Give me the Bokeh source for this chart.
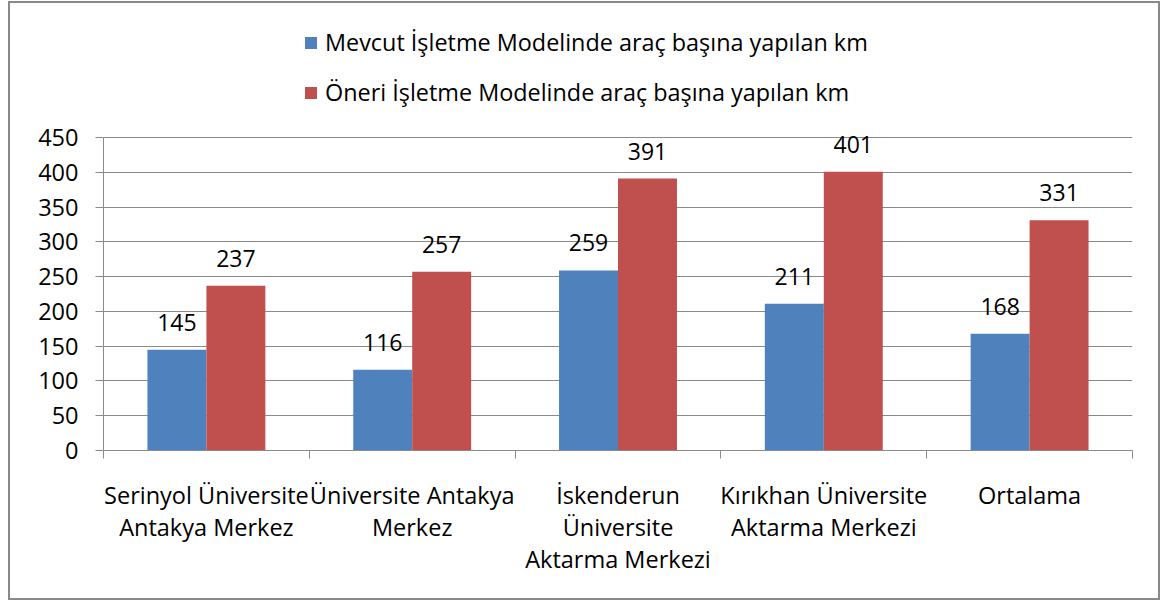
from bokeh.plotting import figure
from bokeh.models import (ColumnDataSource, FixedTicker, LinearAxis, Legend, LegendItem,
                          LabelSet, Range1d)
from bokeh.transform import dodge
from bokeh.embed import file_html
from bokeh.resources import INLINE
from bokeh.core.properties import value

categories = [
    "Serinyol Üniversite\nAntakya Merkez",
    "Üniversite Antakya\nMerkez",
    "İskenderun\nÜniversite\nAktarma Merkezi",
    "Kırıkhan Üniversite\nAktarma Merkezi",
    "Ortalama",
]
mevcut = [145, 116, 259, 211, 168]
oneri = [237, 257, 391, 401, 331]
series_names = [
    "Mevcut İşletme Modelinde araç başına yapılan km",
    "Öneri İşletme Modelinde araç başına yapılan km",
]
y_ticks = [0, 50, 100, 150, 200, 250, 300, 350, 400, 450]

FONT = "Open Sans"
BLUE = "#4F81BD"
RED = "#C0504D"
GRID = "#8A8A8A"

n = len(categories)
xs = [i + 0.5 for i in range(n)]
source = ColumnDataSource(dict(x=xs, mevcut=mevcut, oneri=oneri,
                               ml=[str(v) for v in mevcut], ol=[str(v) for v in oneri]))

# frame extends above the 450 line to hold the legend; axis is bounded to 0..450
frame_h = 423
axis_px = 310
y_top = y_ticks[-1] * frame_h / axis_px

p = figure(width=1152, height=599, output_backend="svg", toolbar_location=None,
           x_range=Range1d(0, n), y_range=Range1d(0, y_top),
           x_axis_location=None, y_axis_location=None)
p.margin = (1, 0, 0, 8)
p.min_border_left = 93
p.min_border_right = 30
p.min_border_top = 20
p.min_border_bottom = 152
p.outline_line_color = None
p.styles = {"border": "2px solid #898989"}
p.background_fill_color = "white"
p.border_fill_color = "white"

bw = 0.2865
r1 = p.vbar(x=dodge("x", -bw / 2, range=p.x_range), top="mevcut", width=bw, source=source,
            fill_color=BLUE, line_color=None)
r2 = p.vbar(x=dodge("x", bw / 2, range=p.x_range), top="oneri", width=bw, source=source,
            fill_color=RED, line_color=None)

for col, lab, off in (("mevcut", "ml", -bw / 2), ("oneri", "ol", bw / 2)):
    ls = LabelSet(x=dodge("x", off, range=p.x_range), y=col, text=lab, source=source,
                  text_align="center", text_baseline="alphabetic", y_offset=19,
                  text_font=value(FONT), text_font_size="23px", text_color="black")
    p.add_layout(ls)

# y axis
yax = LinearAxis(ticker=FixedTicker(ticks=y_ticks), bounds=(y_ticks[0], y_ticks[-1]))
yax.axis_line_color = GRID
yax.major_tick_line_color = GRID
yax.major_tick_out = 8
yax.major_tick_in = 0
yax.minor_tick_line_color = None
yax.major_label_standoff = 17
yax.major_label_text_font = FONT
yax.major_label_text_font_size = "23.5px"
yax.major_label_text_color = "black"
p.add_layout(yax, "left")

# x axis
xax = LinearAxis(ticker=FixedTicker(ticks=xs, minor_ticks=list(range(n + 1))))
xax.major_label_overrides = {x: c for x, c in zip(xs, categories)}
xax.axis_line_color = GRID
xax.major_tick_line_color = None
xax.major_tick_out = 0
xax.major_tick_in = 0
xax.minor_tick_line_color = GRID
xax.minor_tick_out = 8
xax.minor_tick_in = 0
xax.major_label_standoff = 20
xax.major_label_text_font = FONT
xax.major_label_text_font_size = "23.5px"
xax.major_label_text_color = "black"
xax.major_label_text_line_height = 1.0
p.add_layout(xax, "below")

p.xgrid.visible = False
p.ygrid.ticker = FixedTicker(ticks=y_ticks)
p.ygrid.grid_line_color = GRID
p.ygrid.grid_line_width = 1

legend = Legend(items=[LegendItem(label=series_names[0], renderers=[r1]),
                       LegendItem(label=series_names[1], renderers=[r2])],
                location=(200, 342), orientation="vertical")
legend.border_line_color = None
legend.background_fill_alpha = 0
legend.padding = 0
legend.margin = 0
legend.glyph_width = 15
legend.glyph_height = 15
legend.label_height = 30
legend.spacing = 18
legend.label_standoff = 7
legend.label_text_font = FONT
legend.label_text_font_size = "23.4px"
legend.label_text_color = "black"
p.add_layout(legend, "center")

with open("out.html", "w") as f:
    f.write(file_html(p, INLINE))
